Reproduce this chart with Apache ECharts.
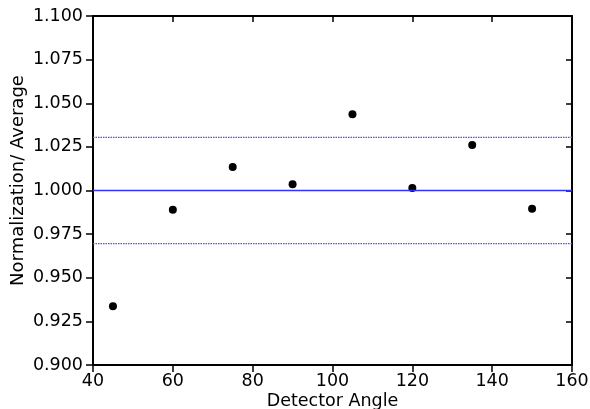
<!DOCTYPE html>
<html>
<head>
<meta charset="utf-8">
<script src="https://cdn.jsdelivr.net/npm/echarts@6/dist/echarts.min.js"></script>
<style>html,body{margin:0;padding:0;background:#fff}#c{width:590px;height:409px}</style>
</head>
<body>
<div id="c"></div>
<script>
var angles = [45, 60, 75, 90, 105, 120, 135, 150];
var ratios = [0.9337, 0.9890, 1.0135, 1.0036, 1.0437, 1.0014, 1.0261, 0.9896];
var lineX = [40, 160];
var meanValue = 1.000;
var upperBand = 1.0304;
var lowerBand = 0.9696;
var xTicks = {min: 40, max: 160, interval: 20};
var yTicks = {min: 0.900, max: 1.100, interval: 0.025};

var font = 'DejaVu Sans';
var fs = 17.5;
var chart = echarts.init(document.getElementById('c'), null, {renderer: 'canvas'});
function hline(v){ return lineX.map(function(x){ return [x, v]; }); }
var axisLine = {show: true, lineStyle: {color: '#000', width: 2}};
chart.setOption({
  animation: false,
  backgroundColor: '#fff',
  grid: {left: 93, top: 16, right: 18, bottom: 44, containLabel: false, outerBoundsMode: 'none'},
  xAxis: [{
    type: 'value', min: xTicks.min, max: xTicks.max, interval: xTicks.interval,
    name: 'Detector Angle', nameLocation: 'middle', nameGap: 27, nameMoveOverlap: false,
    nameTextStyle: {fontFamily: font, fontSize: fs, color: '#000'},
    axisLine: axisLine, splitLine: {show: false},
    axisTick: {show: true, inside: false, length: 7, lineStyle: {color: '#000', width: 1.5}},
    axisLabel: {fontFamily: font, fontSize: fs, color: '#000', margin: 7}
  }, {
    type: 'value', position: 'top', min: xTicks.min, max: xTicks.max, interval: xTicks.interval,
    axisLine: axisLine, splitLine: {show: false},
    axisTick: {show: true, inside: true, length: 6, lineStyle: {color: '#000', width: 1.5}},
    axisLabel: {show: false}
  }],
  yAxis: [{
    type: 'value', min: yTicks.min, max: yTicks.max, interval: yTicks.interval,
    name: 'Normalization/ Average', nameLocation: 'middle', nameGap: 66, nameMoveOverlap: false,
    nameTextStyle: {fontFamily: font, fontSize: 18, color: '#000', padding: [0, 0, 0, 20]},
    axisLine: axisLine, splitLine: {show: false},
    axisTick: {show: true, inside: false, length: 7, lineStyle: {color: '#000', width: 1.5}},
    axisLabel: {fontFamily: font, fontSize: fs, color: '#000', margin: 10,
      formatter: function(v){ return v.toFixed(3); }}
  }, {
    type: 'value', position: 'right', min: yTicks.min, max: yTicks.max, interval: yTicks.interval,
    axisLine: axisLine, splitLine: {show: false},
    axisTick: {show: true, inside: true, length: 6, lineStyle: {color: '#000', width: 1.5}},
    axisLabel: {show: false}
  }],
  series: [
    {type: 'line', data: hline(meanValue), symbol: 'none', silent: true,
     lineStyle: {color: '#3030ff', width: 1.5}},
    {type: 'line', data: hline(upperBand), symbol: 'none', silent: true,
     lineStyle: {color: '#4d4dff', width: 1.2, type: [1.5, 1]}},
    {type: 'line', data: hline(lowerBand), symbol: 'none', silent: true,
     lineStyle: {color: '#4d4dff', width: 1.2, type: [1.5, 1]}},
    {type: 'scatter', data: angles.map(function(a, i){ return [a, ratios[i]]; }),
     symbol: 'circle', symbolSize: 8, itemStyle: {color: '#000', opacity: 1}}
  ]
});
</script>
</body>
</html>
